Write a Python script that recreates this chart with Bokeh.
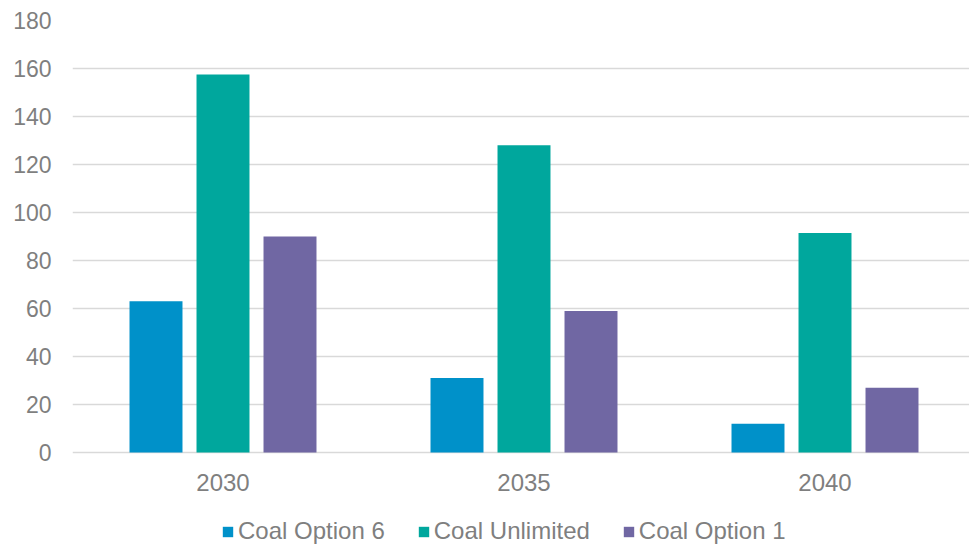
from bokeh.plotting import figure
from bokeh.models import ColumnDataSource, Range1d, FixedTicker, Legend, LegendItem
from bokeh.transform import dodge
from bokeh.embed import file_html
from bokeh.resources import INLINE

# Coal generation by scenario and year
years = ["2030", "2035", "2040"]
coal_option_6 = [63, 31, 12]
coal_unlimited = [157.5, 128, 91.5]
coal_option_1 = [90, 59, 27]

series_names = ["Coal Option 6", "Coal Unlimited", "Coal Option 1"]
series_colors = ["#0091C9", "#00A79D", "#7067A3"]
y_ticks = [0, 20, 40, 60, 80, 100, 120, 140, 160, 180]

FONT = "Liberation Sans"
GREY = "#7f7f7f"

W, H = 969, 545
LEFT, TOP = 72, 20
PX_PER_UNIT = 2.4          # vertical scale of the value axis
GROUP_PX = 301             # horizontal width of one year group

# the frame runs to the bottom edge so the legend can sit under the bars
y_min = -(H - TOP) / PX_PER_UNIT + max(y_ticks)

# category centres on a numeric axis, one unit per year group
x_pos = [i + 0.5 for i in range(len(years))]
source = ColumnDataSource(dict(
    x=x_pos,
    opt6=coal_option_6,
    unlim=coal_unlimited,
    opt1=coal_option_1,
))

p = figure(
    width=W, height=H,
    output_backend="svg", toolbar_location=None,
    x_range=Range1d(0, (W - LEFT) / GROUP_PX), y_range=Range1d(y_min, max(y_ticks)),
    min_border_left=LEFT, min_border_right=0,
    min_border_top=TOP, min_border_bottom=0,
)
p.outline_line_color = None
p.background_fill_color = "white"
p.border_fill_color = "white"

bar_w = 0.176
step = 0.2226
r6 = p.vbar(x=dodge("x", -step, range=p.x_range), top="opt6", width=bar_w,
            source=source, fill_color=series_colors[0], line_color=None)
ru = p.vbar(x=dodge("x", 0, range=p.x_range), top="unlim", width=bar_w,
            source=source, fill_color=series_colors[1], line_color=None)
r1 = p.vbar(x=dodge("x", step, range=p.x_range), top="opt1", width=bar_w,
            source=source, fill_color=series_colors[2], line_color=None)

# axes
p.xaxis.ticker = FixedTicker(ticks=x_pos)
p.xaxis.major_label_overrides = {x: y for x, y in zip(x_pos, years)}
p.xaxis.fixed_location = 0
p.yaxis.ticker = FixedTicker(ticks=y_ticks)
for ax in (p.xaxis[0], p.yaxis[0]):
    ax.axis_line_color = None
    ax.major_tick_line_color = None
    ax.minor_tick_line_color = None
    ax.major_label_text_color = GREY
    ax.major_label_text_font = FONT
p.xaxis.major_label_text_font_size = "24px"
p.yaxis.major_label_text_font_size = "23px"
p.yaxis.major_label_standoff = 15
p.xaxis.major_label_standoff = 15

p.xgrid.grid_line_color = None
p.ygrid.ticker = FixedTicker(ticks=y_ticks)
p.ygrid.grid_line_color = "#d9d9d9"
p.ygrid.grid_line_width = 1.5

legend = Legend(
    items=[LegendItem(label=n, renderers=[r]) for n, r in zip(series_names, [r6, ru, r1])],
    orientation="horizontal",
    location=(221 - LEFT, 0),
    glyph_width=13, glyph_height=13,
    label_standoff=4, spacing=32,
    padding=0, margin=0,
    label_text_font=FONT, label_text_font_size="24px",
    label_text_color=GREY,
    border_line_color=None, background_fill_alpha=0,
)
p.add_layout(legend, "center")

open("out.html", "w").write(file_html(p, INLINE))
